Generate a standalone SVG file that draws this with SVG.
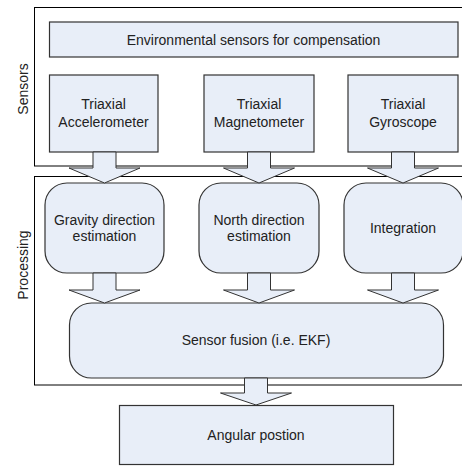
<svg xmlns="http://www.w3.org/2000/svg" width="462" height="466" viewBox="0 0 462 466">
<style>
.bg{fill:#ffffff}
.cont{fill:none;stroke:#000;stroke-width:1}
.box{fill:#E8EEF8;stroke:#333;stroke-width:1.2}
.arr{fill:#E8EEF8;stroke:#333;stroke-width:1}
text{font-family:"Liberation Sans",Arial,sans-serif;font-size:14px;fill:#222;text-anchor:middle}
</style>
<rect class="bg" x="0" y="0" width="462" height="466"/>
<g id="sensors-group">
<rect class="cont" x="34.5" y="7.5" width="440" height="158.5"/>
<text transform="translate(28,89) rotate(-90)">Sensors</text>
</g>
<g id="processing-group">
<rect class="cont" x="34.5" y="176.5" width="440" height="208.5"/>
<text transform="translate(28,265) rotate(-90)">Processing</text>
</g>
<g id="env">
<rect class="box" x="49.5" y="22" width="408.5" height="35"/>
<text x="253.5" y="44.5">Environmental sensors for compensation</text>
</g>
<g id="accel">
<rect class="box" x="49.5" y="75" width="108.5" height="77"/>
<text x="103.5" y="109">Triaxial</text>
<text x="103.5" y="127">Accelerometer</text>
</g>
<g id="magnet">
<rect class="box" x="204" y="75" width="110" height="77"/>
<text x="259" y="109">Triaxial</text>
<text x="259" y="127">Magnetometer</text>
</g>
<g id="gyro">
<rect class="box" x="348" y="75" width="110" height="77"/>
<text x="403" y="109">Triaxial</text>
<text x="403" y="127">Gyroscope</text>
</g>
<g id="gravity">
<rect class="box" x="45" y="183" width="119" height="90" rx="22" ry="22"/>
<text x="104.5" y="225">Gravity direction</text>
<text x="104.5" y="241">estimation</text>
</g>
<g id="north">
<rect class="box" x="199" y="183" width="120" height="90" rx="22" ry="22"/>
<text x="259" y="225">North direction</text>
<text x="259" y="241">estimation</text>
</g>
<g id="integration">
<rect class="box" x="344" y="183" width="119" height="90" rx="22" ry="22"/>
<text x="403" y="233">Integration</text>
</g>
<g id="fusion">
<rect class="box" x="69.5" y="303" width="374" height="75" rx="22" ry="22"/>
<text x="256" y="345">Sensor fusion (i.e. EKF)</text>
</g>
<g id="angular">
<rect class="box" x="119.5" y="405.5" width="274" height="59"/>
<text x="256" y="440">Angular postion</text>
</g>
<g id="connectors">
<polygon class="arr" points="93,152 116,152 116,168 140,168 104.5,183 69,168 93,168"/>
<polygon class="arr" points="247.5,152 270.5,152 270.5,168 294.5,168 259,183 223.5,168 247.5,168"/>
<polygon class="arr" points="391.5,152 414.5,152 414.5,168 438.5,168 403,183 367.5,168 391.5,168"/>
<polygon class="arr" points="93,273 116,273 116,290 140,290 104.5,303 69,290 93,290"/>
<polygon class="arr" points="247.5,273 270.5,273 270.5,290 294.5,290 259,303 223.5,290 247.5,290"/>
<polygon class="arr" points="391.5,273 414.5,273 414.5,290 438.5,290 403,303 367.5,290 391.5,290"/>
<polygon class="arr" points="244.5,378 267.5,378 267.5,393 291.5,393 256,405 220.5,393 244.5,393"/>
</g>
</svg>
